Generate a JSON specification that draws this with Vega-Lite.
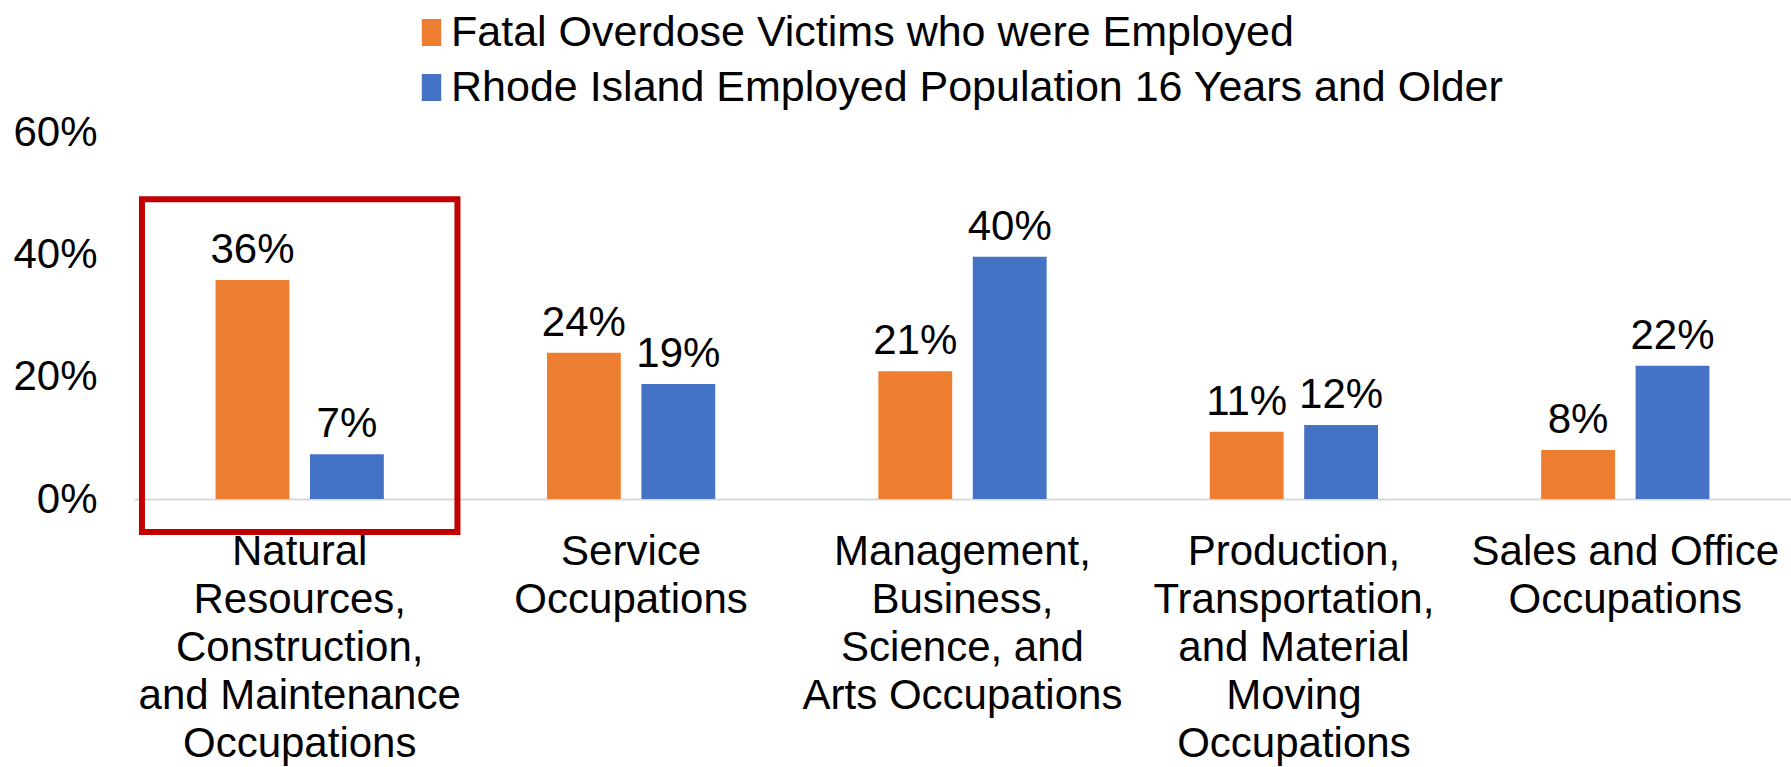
{
  "$schema": "https://vega.github.io/schema/vega-lite/v6.json",
  "width": 1657,
  "height": 367,
  "autosize": {"type": "none"},
  "padding": {"left": 134, "top": 132, "right": 0, "bottom": 268},
  "config": {
    "font": "Liberation Sans",
    "view": {"stroke": null},
    "axisX": {"labelFontSize": 42, "labelColor": "#000000", "labelAngle": 0, "ticks": false, "domainColor": "#d9d9d9", "domainWidth": 2, "labelPadding": 32, "labelLineHeight": 48, "labelLimit": 2000, "grid": false, "labelFont": "Liberation Sans", "labelExpr": "split(datum.label, '|')"},
    "axisY": {"labelFontSize": 42, "labelColor": "#000000", "ticks": false, "domain": false, "grid": false, "labelPadding": 37, "labelFont": "Liberation Sans"}
  },
  "datasets": {
    "bars": [
      {"category": "Natural|Resources,|Construction,|and Maintenance|Occupations", "series": "Fatal Overdose Victims who were Employed", "value": 0.358},
      {"category": "Natural|Resources,|Construction,|and Maintenance|Occupations", "series": "Rhode Island Employed Population 16 Years and Older", "value": 0.073},
      {"category": "Service|Occupations", "series": "Fatal Overdose Victims who were Employed", "value": 0.239},
      {"category": "Service|Occupations", "series": "Rhode Island Employed Population 16 Years and Older", "value": 0.188},
      {"category": "Management,|Business,|Science, and|Arts Occupations", "series": "Fatal Overdose Victims who were Employed", "value": 0.209},
      {"category": "Management,|Business,|Science, and|Arts Occupations", "series": "Rhode Island Employed Population 16 Years and Older", "value": 0.396},
      {"category": "Production,|Transportation,|and Material|Moving|Occupations", "series": "Fatal Overdose Victims who were Employed", "value": 0.110},
      {"category": "Production,|Transportation,|and Material|Moving|Occupations", "series": "Rhode Island Employed Population 16 Years and Older", "value": 0.121},
      {"category": "Sales and Office|Occupations", "series": "Fatal Overdose Victims who were Employed", "value": 0.080},
      {"category": "Sales and Office|Occupations", "series": "Rhode Island Employed Population 16 Years and Older", "value": 0.218}
    ],
    "box": [
      {"category": "Natural|Resources,|Construction,|and Maintenance|Occupations", "top": 0.49, "bottom": -0.054}
    ]
  },
  "layer": [
    {
      "data": {"name": "bars"},
      "mark": {"type": "bar"},
      "encoding": {
        "x": {"field": "category", "type": "nominal", "title": null, "scale": {"domain": ["Natural|Resources,|Construction,|and Maintenance|Occupations", "Service|Occupations", "Management,|Business,|Science, and|Arts Occupations", "Production,|Transportation,|and Material|Moving|Occupations", "Sales and Office|Occupations"], "paddingInner": 0, "paddingOuter": 0}},
        "xOffset": {"field": "series", "type": "nominal", "scale": {"domain": ["Fatal Overdose Victims who were Employed", "Rhode Island Employed Population 16 Years and Older"], "paddingInner": 0.218, "paddingOuter": 0.864}},
        "y": {"field": "value", "type": "quantitative", "title": null, "scale": {"domain": [0, 0.6], "nice": false}, "axis": {"values": [0, 0.2, 0.4, 0.6], "format": ".0%"}},
        "color": {"field": "series", "type": "nominal", "scale": {"domain": ["Fatal Overdose Victims who were Employed", "Rhode Island Employed Population 16 Years and Older"], "range": ["#ED7D31", "#4472C4"]}, "legend": {"title": null, "orient": "none", "legendX": 276, "legendY": -121, "direction": "vertical", "symbolType": "M-0.72,-1L0.72,-1L0.72,1L-0.72,1Z", "symbolSize": 729, "symbolStrokeWidth": 0, "labelFontSize": 43, "labelColor": "#000000", "labelOffset": -2, "rowPadding": 11, "padding": 0, "labelLimit": 2000, "labelFont": "Liberation Sans"}}
      }
    },
    {
      "data": {"name": "bars"},
      "mark": {"type": "text", "baseline": "alphabetic", "dy": -17, "fontSize": 42, "color": "#000000", "font": "Liberation Sans"},
      "encoding": {
        "x": {"field": "category", "type": "nominal", "title": null, "scale": {"domain": ["Natural|Resources,|Construction,|and Maintenance|Occupations", "Service|Occupations", "Management,|Business,|Science, and|Arts Occupations", "Production,|Transportation,|and Material|Moving|Occupations", "Sales and Office|Occupations"], "paddingInner": 0, "paddingOuter": 0}},
        "xOffset": {"field": "series", "type": "nominal", "scale": {"domain": ["Fatal Overdose Victims who were Employed", "Rhode Island Employed Population 16 Years and Older"], "paddingInner": 0.218, "paddingOuter": 0.864}},
        "y": {"field": "value", "type": "quantitative", "title": null, "scale": {"domain": [0, 0.6], "nice": false}, "axis": {"values": [0, 0.2, 0.4, 0.6], "format": ".0%"}},
        "text": {"field": "value", "type": "quantitative", "format": ".0%"}
      }
    },
    {
      "data": {"name": "box"},
      "mark": {"type": "rect", "filled": false, "stroke": "#C00000", "strokeWidth": 6, "width": {"band": 0.952}},
      "encoding": {
        "x": {"field": "category", "type": "nominal", "title": null, "scale": {"domain": ["Natural|Resources,|Construction,|and Maintenance|Occupations", "Service|Occupations", "Management,|Business,|Science, and|Arts Occupations", "Production,|Transportation,|and Material|Moving|Occupations", "Sales and Office|Occupations"], "paddingInner": 0, "paddingOuter": 0}},
        "y": {"field": "top", "type": "quantitative", "title": null, "scale": {"domain": [0, 0.6], "nice": false}, "axis": {"values": [0, 0.2, 0.4, 0.6], "format": ".0%"}},
        "y2": {"field": "bottom"}
      }
    }
  ]
}
